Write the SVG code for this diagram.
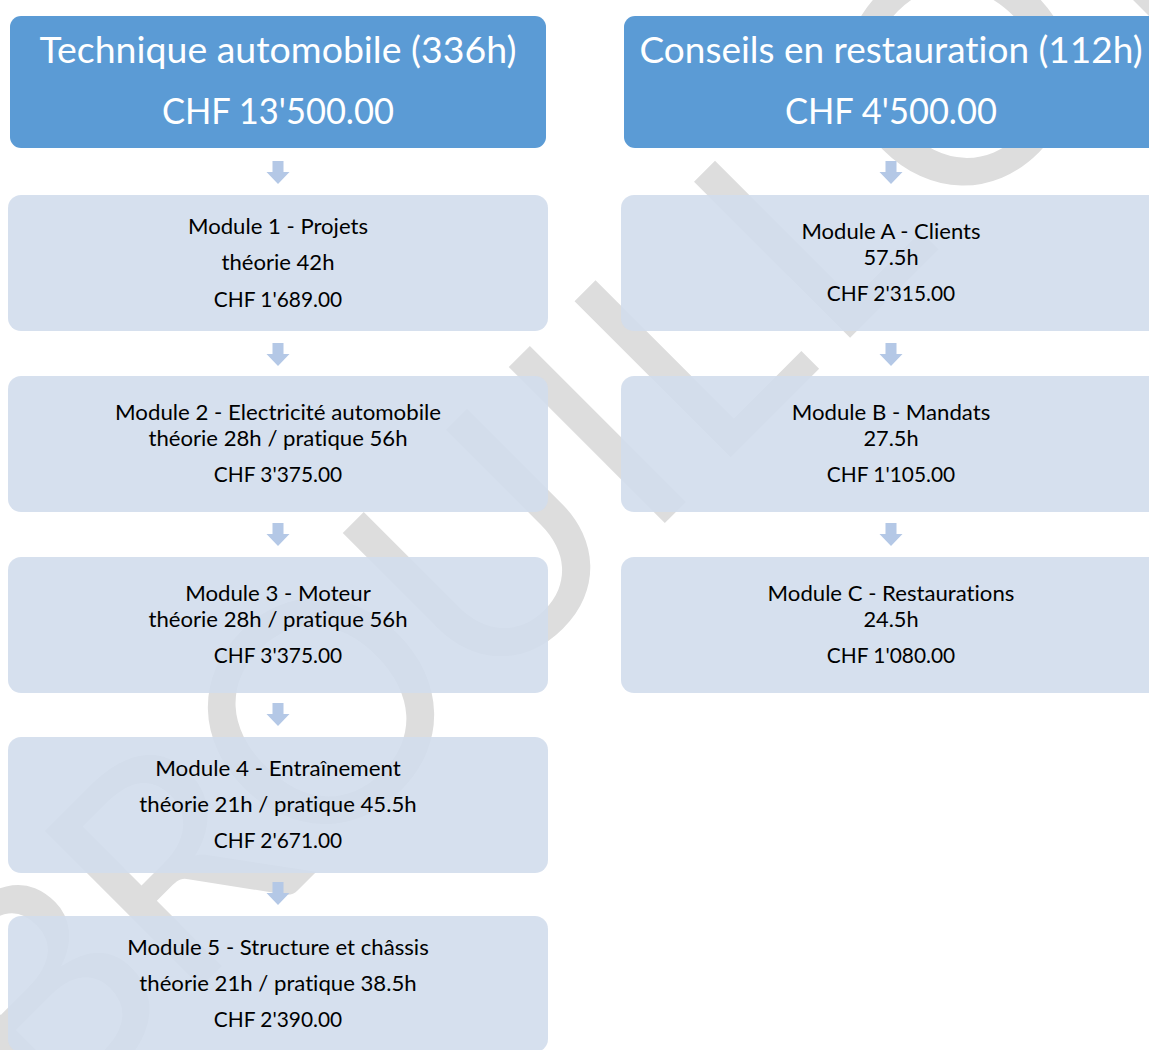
<svg xmlns="http://www.w3.org/2000/svg" width="1149" height="1050" viewBox="0 0 1149 1050">
<defs>
<style>
text{font-variant-ligatures:none;font-feature-settings:"liga" 0,"dlig" 0,"clig" 0}
.wm{font-family:Lato,"Open Sans","Liberation Sans",sans-serif;font-size:308px;fill:#DDDDDD}
.hdr{fill:#5B9BD5}
.box{fill:#D1DDEC;fill-opacity:0.9}
.arr{fill:#B4C8E6}
.ht{font-family:Lato,"Liberation Sans",sans-serif;font-size:36px;fill:#FFFFFF;text-anchor:middle}
.bt{font-family:Lato,"Liberation Sans",sans-serif;font-size:22px;fill:#000000;text-anchor:middle}
</style>
</defs>
<rect width="1149" height="1050" fill="#FFFFFF"/>
<g id="watermark" transform="rotate(-45)">
<text class="wm" x="-775 -584 -399 -160 72 165 334 504 773" y="840">BROUILLON</text>
</g>
<g id="connectors">
<polygon class="arr" points="272.5,161 283.5,161 283.5,172 289.5,172 278,184 266.5,172 272.5,172"/>
<polygon class="arr" points="272.5,343 283.5,343 283.5,354 289.5,354 278,366 266.5,354 272.5,354"/>
<polygon class="arr" points="272.5,523 283.5,523 283.5,534 289.5,534 278,546 266.5,534 272.5,534"/>
<polygon class="arr" points="272.5,703 283.5,703 283.5,714 289.5,714 278,726 266.5,714 272.5,714"/>
<polygon class="arr" points="272.5,882 283.5,882 283.5,893 289.5,893 278,905 266.5,893 272.5,893"/>
<polygon class="arr" points="885.5,161 896.5,161 896.5,172 902.5,172 891,184 879.5,172 885.5,172"/>
<polygon class="arr" points="885.5,343 896.5,343 896.5,354 902.5,354 891,366 879.5,354 885.5,354"/>
<polygon class="arr" points="885.5,523 896.5,523 896.5,534 902.5,534 891,546 879.5,534 885.5,534"/>
</g>
<g id="header-auto">
<rect class="hdr" x="10" y="16" width="536" height="132" rx="11"/>
<text class="ht" x="278" y="63" textLength="477" lengthAdjust="spacingAndGlyphs">Technique automobile (336h)</text>
<text class="ht" x="278" y="124" textLength="232" lengthAdjust="spacingAndGlyphs">CHF 13'500.00</text>
</g>
<g id="header-resto">
<rect class="hdr" x="624" y="16" width="536" height="132" rx="11"/>
<text class="ht" x="891" y="63" textLength="503" lengthAdjust="spacingAndGlyphs">Conseils en restauration (112h)</text>
<text class="ht" x="891" y="124" textLength="212" lengthAdjust="spacingAndGlyphs">CHF 4'500.00</text>
</g>
<g id="module-1">
<rect class="box" x="8" y="195" width="540" height="136" rx="13"/>
<text class="bt" x="278" y="234" textLength="180" lengthAdjust="spacingAndGlyphs">Module 1 - Projets</text>
<text class="bt" x="278" y="270" textLength="113" lengthAdjust="spacingAndGlyphs">théorie 42h</text>
<text class="bt" x="278" y="306.5" textLength="128.5" lengthAdjust="spacingAndGlyphs">CHF 1'689.00</text>
</g>
<g id="module-2">
<rect class="box" x="8" y="376" width="540" height="136" rx="13"/>
<text class="bt" x="278" y="419.5" textLength="326" lengthAdjust="spacingAndGlyphs">Module 2 - Electricité automobile</text>
<text class="bt" x="278" y="446" textLength="259" lengthAdjust="spacingAndGlyphs">théorie 28h / pratique 56h</text>
<text class="bt" x="278" y="482" textLength="128.5" lengthAdjust="spacingAndGlyphs">CHF 3'375.00</text>
</g>
<g id="module-3">
<rect class="box" x="8" y="557" width="540" height="136" rx="13"/>
<text class="bt" x="278" y="600.5" textLength="185.7" lengthAdjust="spacingAndGlyphs">Module 3 - Moteur</text>
<text class="bt" x="278" y="627" textLength="259" lengthAdjust="spacingAndGlyphs">théorie 28h / pratique 56h</text>
<text class="bt" x="278" y="663" textLength="128.5" lengthAdjust="spacingAndGlyphs">CHF 3'375.00</text>
</g>
<g id="module-4">
<rect class="box" x="8" y="737" width="540" height="136" rx="13"/>
<text class="bt" x="278" y="776" textLength="245.6" lengthAdjust="spacingAndGlyphs">Module 4 - Entraînement</text>
<text class="bt" x="278" y="812" textLength="277.3" lengthAdjust="spacingAndGlyphs">théorie 21h / pratique 45.5h</text>
<text class="bt" x="278" y="848" textLength="128.5" lengthAdjust="spacingAndGlyphs">CHF 2'671.00</text>
</g>
<g id="module-5">
<rect class="box" x="8" y="916" width="540" height="136" rx="13"/>
<text class="bt" x="278" y="955" textLength="301.5" lengthAdjust="spacingAndGlyphs">Module 5 - Structure et châssis</text>
<text class="bt" x="278" y="991" textLength="277.3" lengthAdjust="spacingAndGlyphs">théorie 21h / pratique 38.5h</text>
<text class="bt" x="278" y="1027" textLength="128.5" lengthAdjust="spacingAndGlyphs">CHF 2'390.00</text>
</g>
<g id="module-a">
<rect class="box" x="621" y="195" width="540" height="136" rx="13"/>
<text class="bt" x="891" y="238.5" textLength="179" lengthAdjust="spacingAndGlyphs">Module A - Clients</text>
<text class="bt" x="891" y="265" textLength="55.2" lengthAdjust="spacingAndGlyphs">57.5h</text>
<text class="bt" x="891" y="301" textLength="128.5" lengthAdjust="spacingAndGlyphs">CHF 2'315.00</text>
</g>
<g id="module-b">
<rect class="box" x="621" y="376" width="540" height="136" rx="13"/>
<text class="bt" x="891" y="419.5" textLength="198.6" lengthAdjust="spacingAndGlyphs">Module B - Mandats</text>
<text class="bt" x="891" y="446" textLength="55.2" lengthAdjust="spacingAndGlyphs">27.5h</text>
<text class="bt" x="891" y="482" textLength="128.5" lengthAdjust="spacingAndGlyphs">CHF 1'105.00</text>
</g>
<g id="module-c">
<rect class="box" x="621" y="557" width="540" height="136" rx="13"/>
<text class="bt" x="891" y="600.5" textLength="246.8" lengthAdjust="spacingAndGlyphs">Module C - Restaurations</text>
<text class="bt" x="891" y="627" textLength="55.2" lengthAdjust="spacingAndGlyphs">24.5h</text>
<text class="bt" x="891" y="663" textLength="128.5" lengthAdjust="spacingAndGlyphs">CHF 1'080.00</text>
</g>
</svg>
